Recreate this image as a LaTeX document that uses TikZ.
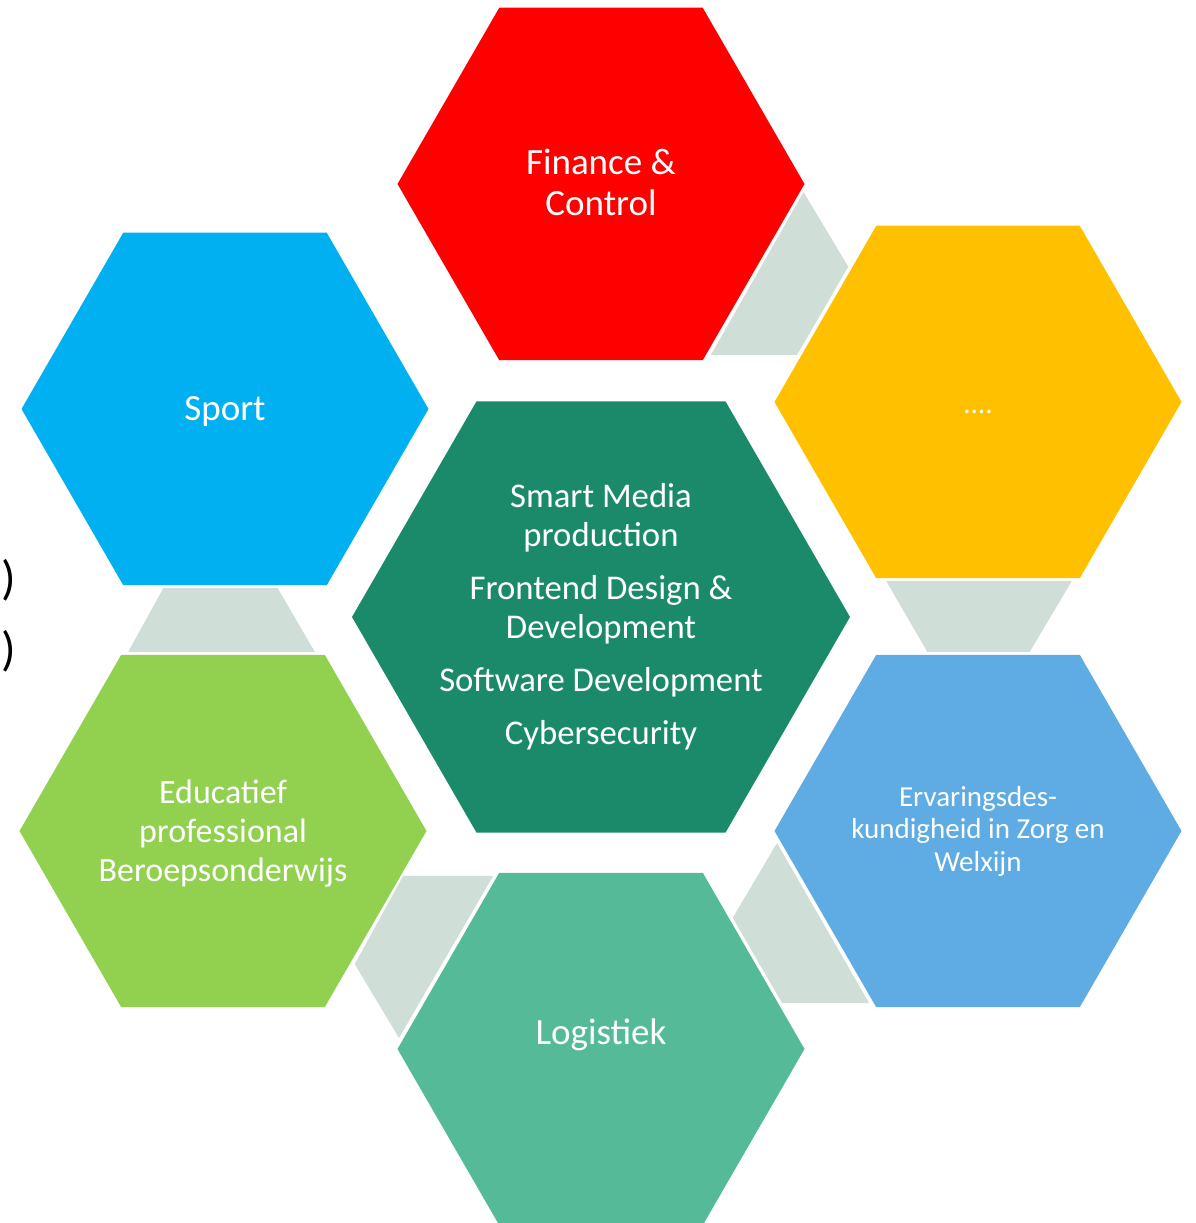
\documentclass[tikz,border=0pt]{standalone}
\usepackage{fontspec}
\setmainfont{Carlito}
\usepackage{xcolor}
\usepackage{tikz}
\usetikzlibrary{shapes}
\usetikzlibrary{positioning}

\definecolor{finred}{HTML}{FF0000}
\definecolor{moreyellow}{HTML}{FFC000}
\definecolor{sportblue}{HTML}{00B0F0}
\definecolor{edugreen}{HTML}{92D050}
\definecolor{ervblue}{HTML}{5FABE3}
\definecolor{logiteal}{HTML}{55BA97}
\definecolor{ictgreen}{HTML}{1B8A6B}
\definecolor{linkgray}{HTML}{CFDED7}

\tikzstyle{hexa} = [regular polygon, regular polygon sides=6,
    minimum size=407pt, inner sep=0pt, outer sep=0pt,
    text=white, align=center, font=\fontsize{37}{41}\selectfont]
\tikzstyle{bighexa} = [hexa, minimum size=498pt]
\tikzstyle{hextext} = [text=white, align=center, inner sep=0pt]
\tikzstyle{bigtext} = [font=\fontsize{37}{41}\selectfont]
\tikzstyle{midtext} = [font=\fontsize{34}{39}\selectfont]
\tikzstyle{smalltext} = [font=\fontsize{29}{32.5}\selectfont]
\tikzstyle{link} = [fill=linkgray]
\tikzstyle{paren} = [anchor=west, inner sep=0pt, font=\fontsize{48}{52}\selectfont]

\begin{document}
\begin{tikzpicture}[x=1pt, y=1pt, node distance=433pt, on grid]
  \useasboundingbox (0,0) rectangle (1196,1223);

  % Place nodes
  \node [bighexa, fill=ictgreen,
    label={[hextext, font=\fontsize{34.7}{39}\selectfont]center:{Smart Media\\production\\[14pt]
    Frontend Design \&\\Development\\[14pt]
    Software Development\\[14pt]
    Cybersecurity}}] (ict) at (601,606) {};

  \node [hexa, fill=finred, above of=ict,
    label={[hextext, bigtext, yshift=2pt]center:{Finance \&\\Control}}] (fin) {};
  \node [hexa, fill=moreyellow, above right=215pt and 377pt of ict,
    label={[hextext, smalltext, yshift=-10pt]center:....}] (more) {};
  \node [hexa, fill=ervblue, below right=214pt and 377pt of ict,
    label={[hextext, smalltext]center:{Ervaringsdes-\\kundigheid in Zorg en\\Welxijn}}] (erv) {};
  \node [hexa, fill=logiteal, below of=ict, node distance=432pt,
    label={[hextext, bigtext, yshift=14pt]center:Logistiek}] (logi) {};
  \node [hexa, fill=edugreen, below left=214pt and 378pt of ict,
    label={[hextext, midtext, yshift=-3pt]center:{Educatief\\professional\\Beroepsonderwijs}}] (edu) {};
  \node [hexa, fill=sportblue, above left=208pt and 376pt of ict,
    label={[hextext, bigtext, yshift=-2pt]center:Sport}] (sport) {};

  % Links between the hexagons
  \fill [link] ([shift={(-1,-8)}]fin.0) -- ([shift={(-28,-41)}]more.120)
    -- ([shift={(22.5,47)}]more.180) -- ([shift={(8,5)}]fin.300) -- cycle;
  \fill [link] ([shift={(10,-3)}]more.240) -- ([shift={(-8,-3)}]more.300)
    -- ([shift={(-50,3)}]erv.60) -- ([shift={(51,3)}]erv.120) -- cycle;
  \fill [link] ([shift={(2.5,-12)}]erv.180) -- ([shift={(-7,4)}]erv.240)
    -- ([shift={(-22.5,46)}]logi.0) -- ([shift={(30,-45)}]logi.60) -- cycle;
  \fill [link] ([shift={(-23.5,-45)}]edu.0) -- ([shift={(-6,-3)}]logi.120)
    -- ([shift={(1.5,11)}]logi.180) -- ([shift={(30,43)}]edu.300) -- cycle;
  \fill [link] ([shift={(40,-3)}]sport.240) -- ([shift={(-49,-3)}]sport.300)
    -- ([shift={(-10,3)}]edu.60) -- ([shift={(7,3)}]edu.120) -- cycle;

  % Loose brackets at the left edge
  \node [paren] (paren1) at (1,643) {)};
  \node [paren] (paren2) at (1,572) {)};

\end{tikzpicture}
\end{document}
